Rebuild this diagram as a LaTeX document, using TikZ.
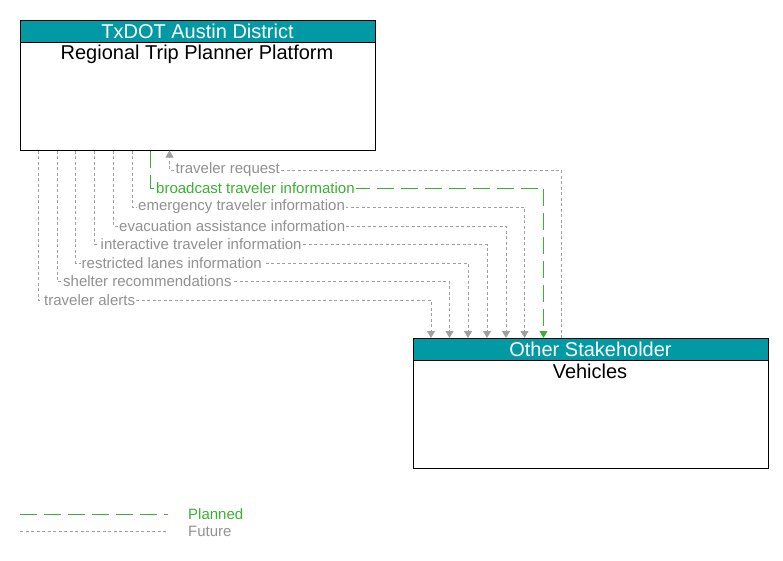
\documentclass[tikz,border=0pt]{standalone}
\usepackage{fontspec}
\setmainfont{Liberation Sans}
\usetikzlibrary{arrows.meta}
\definecolor{teal}{RGB}{0,153,164}
\definecolor{plgreen}{RGB}{60,176,50}
\definecolor{fgray}{RGB}{160,160,160}
\definecolor{tgray}{RGB}{145,145,145}
\tikzset{
  box/.style={draw=black, line width=1pt, fill=white, minimum width=355pt, minimum height=130pt, anchor=north west, inner sep=0pt},
  hdr/.style={draw=black, line width=1pt, fill=teal, minimum width=355pt, minimum height=22pt, anchor=north west, inner sep=0pt, text=white, font=\fontsize{20}{22}\selectfont},
  ttl/.style={font=\fontsize{20}{22}\selectfont, text=black, inner sep=0pt},
  fut/.style={draw=fgray, line width=0.9pt, dash pattern=on 3pt off 2.5pt, -{Triangle[width=8pt,length=7pt,fill=fgray]}},
  plan/.style={draw=plgreen, line width=0.9pt, dash pattern=on 17pt off 7pt, -{Triangle[width=8pt,length=7pt,fill=plgreen]}},
  flab/.style={font=\fontsize{15}{17}\selectfont, text=tgray, fill=white, inner sep=1pt, anchor=west},
  plab/.style={font=\fontsize{15}{17}\selectfont, text=plgreen, fill=white, inner sep=1pt, anchor=west},
}
\begin{document}
\begin{tikzpicture}[x=1pt,y=-1pt]
\useasboundingbox (0,0) rectangle (783,560);
% top box
\node[box] (tp) at (19.5,19.5) {};
\node[hdr] (tph) at (19.5,19.5) {TxDOT Austin District};
\node[ttl] (tpt) at (197,54.5) {Regional Trip Planner Platform};
% bottom box
\node[box] (vh) at (412.5,338) {};
\node[hdr] (vhh) at (412.5,338) {Other Stakeholder};
\node[ttl] (vht) at (590,371.5) {Vehicles};
% future flows to vehicles
\foreach \xa/\yy/\xb/\txt/\nm in {
  38/300/431/traveler alerts/la,
  57/281.5/449.5/shelter recommendations/lb,
  75.5/263/468/restricted lanes information/lc,
  94.5/244.5/487/interactive traveler information/ld,
  113/226/506/evacuation assistance information/le,
  132/207/524.5/emergency traveler information/lf}{
  \draw[fut] (\xa,0 |- tp.south) |- (\xb,\yy) -- (\xb,0 |- vh.north);
  \node[flab] (\nm) at (\xa+5,\yy) {\txt};
}
% planned flow
\draw[plan] (150,0 |- tp.south) |- (543.5,188) -- (543.5,0 |- vh.north);
\node[plab] (lg) at (155,188) {broadcast traveler information};
% traveler request (vehicles -> platform)
\draw[fut] (561.5,0 |- vh.north) |- (169.5,170) -- (169.5,0 |- tp.south);
\node[flab] (lh) at (174.5,170) {traveler request};
% legend
\coordinate (p1) at (20,514);
\coordinate (p2) at (168,514);
\coordinate (f1) at (20,531);
\coordinate (f2) at (168,531);
\draw[plgreen, line width=0.9pt, dash pattern=on 17pt off 7pt] (p1) -- (p2);
\draw[fgray, line width=0.9pt, dash pattern=on 3pt off 2.5pt] (f1) -- (f2);
\node[plab, fill=none] (lp) at (187,514) {Planned};
\node[flab, fill=none] (lfu) at (187,531) {Future};
\end{tikzpicture}
\end{document}
